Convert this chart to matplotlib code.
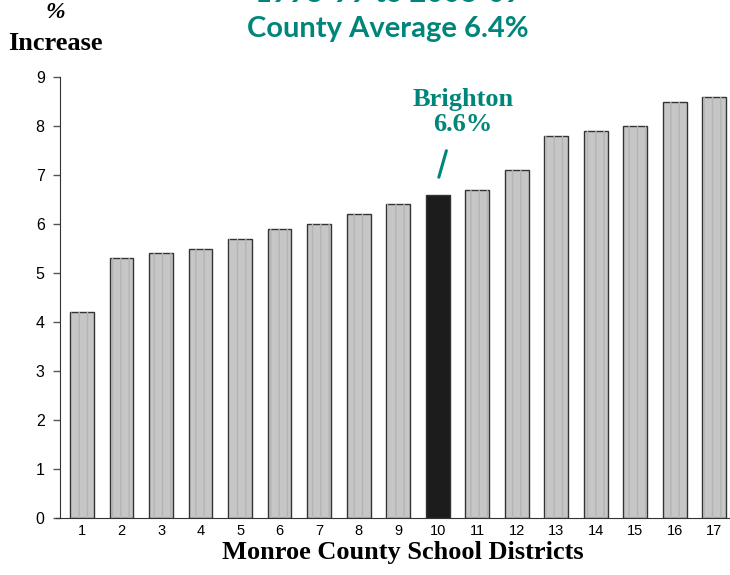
import matplotlib
matplotlib.use("Agg")
import matplotlib.pyplot as plt

districts = [str(i) for i in range(1, 18)]
values = [4.2, 5.3, 5.4, 5.5, 5.7, 5.9, 6.0, 6.2, 6.4, 6.6, 6.7, 7.1, 7.8, 7.9, 8.0, 8.5, 8.6]
highlight = "10"
yticks = list(range(0, 10))

teal = "#00857a"
fig = plt.figure(figsize=(7.3, 5.75), dpi=100)
ax = fig.add_axes([60/730, 57/575, 670/730, 441/575])

x = list(range(1, 18))
colors = ["#1c1c1c" if d == highlight else "#c6c6c6" for d in districts]
ax.bar(x, values, width=0.6, color=colors, edgecolor="#333333", linewidth=1.0, zorder=2)
# subtle texture
ax.bar([xi for xi, d in zip(x, districts) if d != highlight],
       [v for v, d in zip(values, districts) if d != highlight],
       width=0.56, color="none", edgecolor="#b4b4b4", hatch="||", linewidth=0, zorder=3)

ax.set_xlim(0.44, 17.4)
ax.set_ylim(0, 9)
ax.set_yticks(yticks)
ax.set_xticks(x)
ax.set_xticklabels(districts, fontsize=10.5, family="Liberation Sans")
ax.set_yticklabels([str(t) for t in yticks], fontsize=11.5, family="Liberation Sans")
ax.tick_params(axis="x", length=0, pad=4)
ax.tick_params(axis="y", length=5, width=1, color="#555555", pad=6)
for s in ["top", "right"]:
    ax.spines[s].set_visible(False)
ax.spines["left"].set_color("#333333")
ax.spines["bottom"].set_color("#333333")
ax.spines["bottom"].set_bounds(0.35, 17.4)
ax.spines["bottom"].set_clip_on(False)

fig.text(403/730, 1 - 553/575, "Monroe County School Districts", ha="center", va="center",
         fontsize=19, fontweight="bold", family="Liberation Serif")

fig.text(55/730, 1 - 12/575, "%", ha="center", va="center", fontsize=17,
         fontweight="bold", family="Liberation Serif", style="italic")
fig.text(55/730, 1 - 44/575, "Increase", ha="center", va="center", fontsize=19,
         fontweight="bold", family="Liberation Serif")
fig.text(388/730, 1 - 29/575, "County Average 6.4%", ha="center", va="center",
         fontsize=21, fontweight="bold", family="Lato", color=teal)
fig.text(388/730, 1 + 6/575, "1998-99 to 2008-09", ha="center", va="center",
         fontsize=21, fontweight="bold", family="Lato", color=teal)

ax.annotate("Brighton\n6.6%", xy=(10, 6.6), xytext=(10.64, 8.29), ha="center", va="center",
            fontsize=19, fontweight="bold", family="Liberation Serif", color=teal,
            linespacing=1.1, annotation_clip=False)
ax.annotate("", xy=(10.01, 6.9), xytext=(10.24, 7.55),
            arrowprops=dict(arrowstyle="-", color=teal, lw=2.2))

fig.savefig("out.png", dpi=100)
